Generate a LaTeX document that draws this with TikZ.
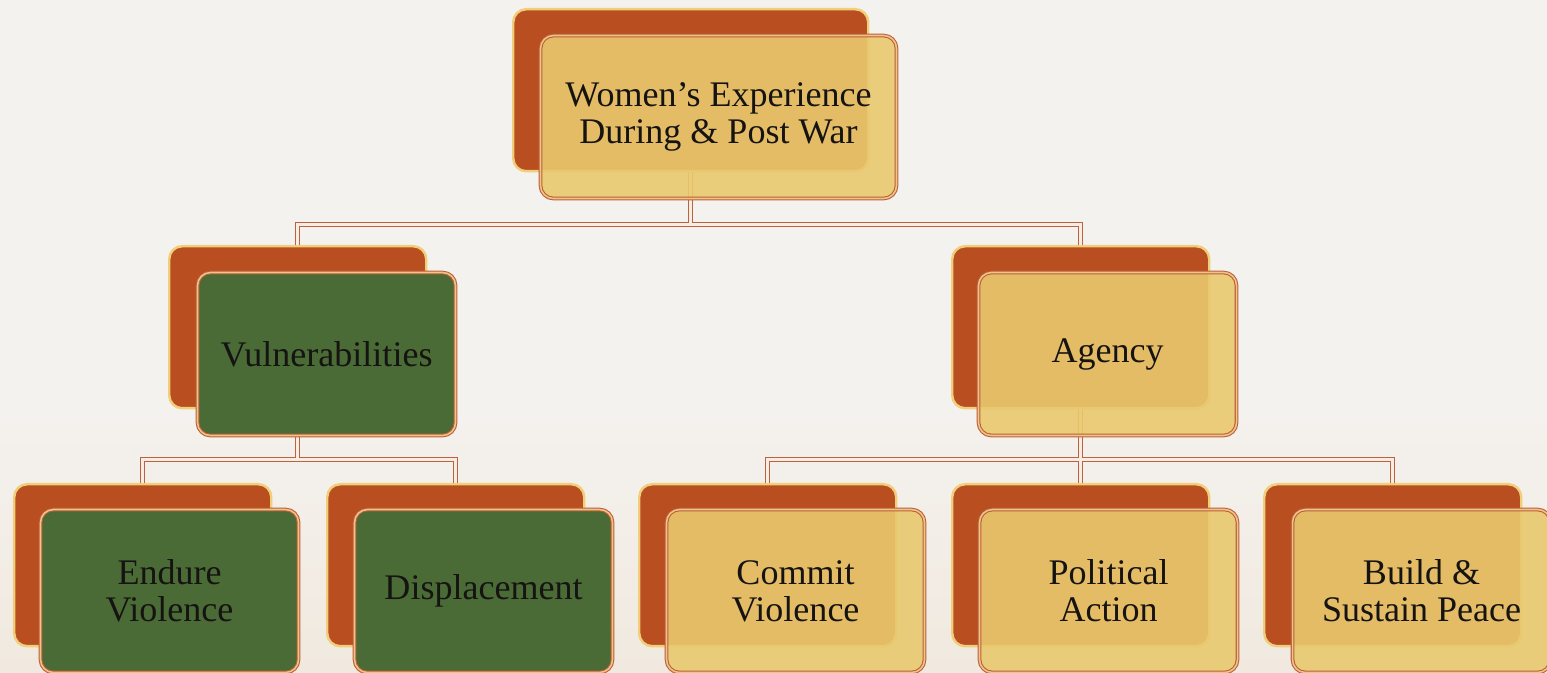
\documentclass[tikz,border=0pt]{standalone}
\usepackage{fontspec}
\setmainfont{Liberation Serif}
\definecolor{paper}{RGB}{244,242,239}
\definecolor{paperwarm}{RGB}{241,233,223}
\definecolor{rust}{RGB}{185,78,32}
\definecolor{paleedge}{RGB}{240,206,122}
\definecolor{sand}{RGB}{233,201,110}
\definecolor{moss}{RGB}{74,107,53}
\definecolor{boxedge}{RGB}{188,94,56}
\definecolor{boxinner}{RGB}{238,196,136}
\definecolor{linkedge}{RGB}{186,98,66}
\definecolor{linkinner}{RGB}{246,236,226}
\definecolor{ink}{RGB}{22,20,18}
\begin{document}
\begin{tikzpicture}[
    backbox/.style={draw=paleedge,line width=1.4pt,fill=rust,rectangle,rounded corners=1.6ex,
        minimum width=5.14cm,minimum height=3.24cm,anchor=north west},
    frontbox/.style={draw=boxedge,double=boxinner,double distance=0.9pt,line width=0.6pt,
        rectangle,rounded corners=1.6ex,minimum width=5.16cm,minimum height=3.26cm,
        anchor=north west,align=center,text=ink,font=\fontsize{20.5}{21}\selectfont},
    sandbox/.style={frontbox,fill=sand,fill opacity=0.9,text opacity=1},
    mossbox/.style={frontbox,fill=moss},
    link/.style={draw=linkedge,double=linkinner,double distance=1.5pt,line width=0.6pt},
]
    %% Page
    \fill[paper] (0,0) rectangle (30.94,13.46);
    \shade[bottom color=paperwarm,top color=paper] (0,0) rectangle (30.94,5.5);
    \useasboundingbox (0,0) rectangle (30.94,13.46);
    %% Back boxes
    \node[backbox,minimum width=7.10cm] (topB) at (10.24,13.30) {};
    \node[backbox] (vulB) at (3.36,8.56) {};
    \node[backbox] (agB) at (19.02,8.56) {};
    \node[backbox] (endB) at (0.26,3.80) {};
    \node[backbox] (dispB) at (6.52,3.80) {};
    \node[backbox] (comB) at (12.76,3.80) {};
    \node[backbox] (polB) at (19.02,3.80) {};
    \node[backbox] (peaceB) at (25.26,3.80) {};
    %% Links
    \draw[link] (topB.south) -- ++(0,-1.04) -| (vulB.north)
                (topB.south) -- ++(0,-1.04) -| (agB.north);
    \draw[link] (vulB.south) -- ++(0,-1.0) -| (endB.north)
                (vulB.south) -- ++(0,-1.0) -| (dispB.north);
    \draw[link] (agB.south) -- ++(0,-1.0) -| (comB.north)
                (agB.south) -- ++(0,-1.0) -| (polB.north)
                (agB.south) -- ++(0,-1.0) -| (peaceB.north);
    %% Front boxes
    \node[sandbox,minimum width=7.12cm] (top) at ([shift={(0.56,-0.54)}]topB.north west) {Women's Experience\\During \& Post War};
    \node[mossbox] (vul) at ([shift={(0.58,-0.54)}]vulB.north west) {Vulnerabilities};
    \node[sandbox] (ag) at ([shift={(0.54,-0.54)}]agB.north west) {Agency};
    \node[mossbox] (end) at ([shift={(0.54,-0.52)}]endB.north west) {Endure\\Violence};
    \node[mossbox] (disp) at ([shift={(0.56,-0.52)}]dispB.north west) {Displacement};
    \node[sandbox] (com) at ([shift={(0.56,-0.52)}]comB.north west) {Commit\\Violence};
    \node[sandbox] (pol) at ([shift={(0.56,-0.52)}]polB.north west) {Political\\Action};
    \node[sandbox] (peace) at ([shift={(0.58,-0.52)}]peaceB.north west) {Build \&\\Sustain Peace};
\end{tikzpicture}
\end{document}
